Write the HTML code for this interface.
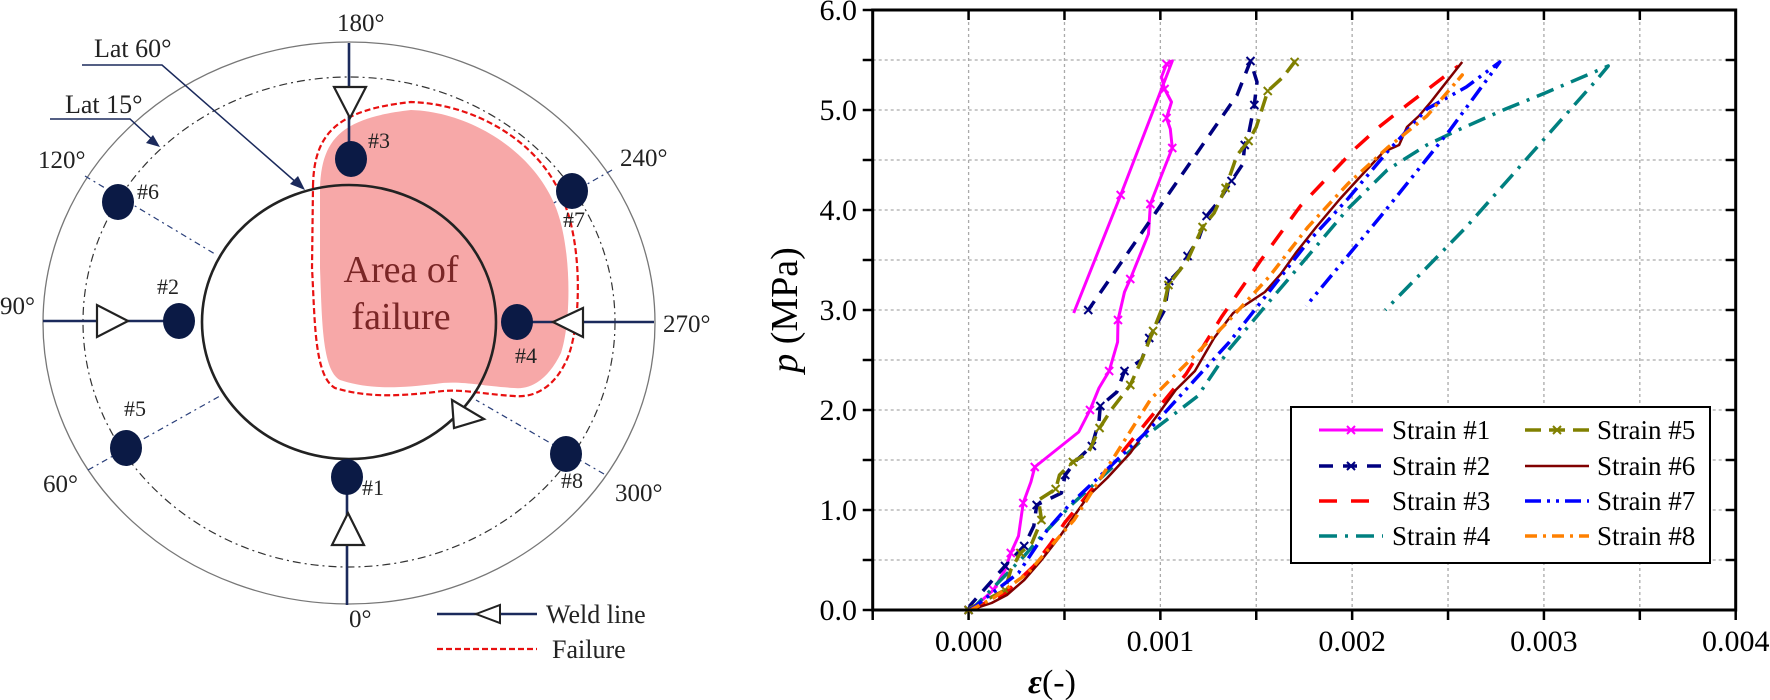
<!DOCTYPE html>
<html><head><meta charset="utf-8"><style>
html,body{margin:0;padding:0;background:#fff;}
svg{display:block;font-family:"Liberation Serif","DejaVu Serif",serif;}
text{font-family:"Liberation Serif","DejaVu Serif",serif;}
</style></head><body>
<svg id="root" width="1770" height="700" viewBox="0 0 1770 700" xmlns="http://www.w3.org/2000/svg" font-family="Liberation Serif, DejaVu Serif, serif">
<g id="diagram" font-family="Liberation Serif, serif">
  <ellipse cx="349" cy="323" rx="306" ry="281" fill="none" stroke="#777" stroke-width="1.3"/>
  <ellipse cx="349" cy="322" rx="266" ry="245" fill="none" stroke="#333" stroke-width="1.2" stroke-dasharray="8,4,2,4"/>
  <g stroke="#2a3f7a" stroke-width="1.2" stroke-dasharray="6,4,2,4">
    <line x1="85" y1="176" x2="215" y2="254"/>
    <line x1="88" y1="470" x2="220" y2="396"/>
    <line x1="612" y1="170" x2="478" y2="246"/>
    <line x1="604" y1="474" x2="476" y2="400"/>
  </g>
  <path d="M320,187 C322,140 340,118 411,110 C470,112 530,150 553,201 C572,240 572,320 561,353 C548,380 530,390 514,388 C480,386 460,380 435,384 C400,388 370,390 340,380 C322,370 322,320 320,268 Z" fill="#f7a8a8"/>
  <path d="M313,186 C314,134 336,110 411,102 C475,104 540,142 562,198 C582,240 582,320 568,357 C555,388 534,398 514,396 C480,394 460,388 435,392 C400,396 368,398 335,388 C314,376 315,320 312,268 Z" fill="none" stroke="#e81010" stroke-width="2.2" stroke-dasharray="6,3"/>
  <ellipse cx="349" cy="322" rx="147" ry="137" fill="none" stroke="#222" stroke-width="2.6"/>
  <polygon points="452,400 484,419 454,428" fill="#fff" stroke="#222" stroke-width="2.2"/>
  <g stroke="#1b2a5c" stroke-width="2.6">
    <line x1="349" y1="43" x2="349" y2="159"/>
    <line x1="347" y1="477" x2="347" y2="605"/>
    <line x1="43" y1="321" x2="179" y2="321"/>
    <line x1="517" y1="322" x2="654" y2="322"/>
  </g>
  <g fill="#fff" stroke="#222" stroke-width="2.2">
    <polygon points="334,87 366,87 350,118"/>
    <polygon points="332,545 364,545 348,513"/>
    <polygon points="97,305 97,337 128,321"/>
    <polygon points="583,308 583,337 553,322"/>
  </g>
  <g fill="#0b1a45">
    <ellipse cx="351" cy="159" rx="16" ry="18"/>
    <ellipse cx="118" cy="202" rx="16" ry="18"/>
    <ellipse cx="179" cy="321" rx="16" ry="18"/>
    <ellipse cx="126" cy="448" rx="16" ry="18"/>
    <ellipse cx="347" cy="477" rx="16" ry="18"/>
    <ellipse cx="566" cy="454" rx="16" ry="18"/>
    <ellipse cx="517" cy="322" rx="16" ry="18"/>
    <ellipse cx="572" cy="191" rx="16" ry="18"/>
  </g>
  <g font-size="22" fill="#222" font-family="Liberation Serif, serif">
    <text x="368" y="148">#3</text><text x="137" y="199">#6</text>
    <text x="157" y="294">#2</text><text x="124" y="416">#5</text>
    <text x="362" y="495">#1</text><text x="515" y="363">#4</text>
    <text x="563" y="227">#7</text><text x="561" y="488">#8</text>
  </g>
  <g font-size="25" fill="#222" font-family="Liberation Serif, serif">
    <text x="337" y="31">180°</text><text x="38" y="168">120°</text>
    <text x="0" y="314">90°</text><text x="43" y="492">60°</text>
    <text x="349" y="627">0°</text><text x="620" y="166">240°</text>
    <text x="663" y="332">270°</text><text x="615" y="501">300°</text>
  </g>
  <text x="401" y="282" font-size="38" fill="#7a2626" text-anchor="middle" font-family="Liberation Serif, serif">Area of</text>
  <text x="401" y="329" font-size="38" fill="#7a2626" text-anchor="middle" font-family="Liberation Serif, serif">failure</text>
  <text x="94" y="57" font-size="26" fill="#222" font-family="Liberation Serif, serif">Lat 60°</text>
  <text x="65" y="113" font-size="26" fill="#222" font-family="Liberation Serif, serif">Lat 15°</text>
  <g stroke="#1b2a5c" stroke-width="1.5" fill="none">
    <polyline points="82,65 162,65 298,184"/>
    <polyline points="50,119 130,119 155,142"/>
  </g>
  <polygon points="305,190 290,184 298,176" fill="#1b2a5c"/>
  <polygon points="160,147 146,143 153,135" fill="#1b2a5c"/>
  <line x1="437" y1="614" x2="537" y2="614" stroke="#1b2a5c" stroke-width="2.6"/>
  <polygon points="476,614 500,605 500,623" fill="#fff" stroke="#222" stroke-width="2"/>
  <text x="546" y="623" font-size="26" fill="#222" font-family="Liberation Serif, serif">Weld line</text>
  <line x1="437" y1="649" x2="537" y2="649" stroke="#e81010" stroke-width="2.2" stroke-dasharray="6,3"/>
  <text x="552" y="658" font-size="26" fill="#222" font-family="Liberation Serif, serif">Failure</text>
</g>
<g id="chart" font-family="Liberation Serif, serif"></g>
</svg>
<script>
const xTicks=[0,0.001,0.002,0.003,0.004];
const xTickLabels=["0.000","0.001","0.002","0.003","0.004"];
const yTicks=[0,1,2,3,4,5,6];
const yTickLabels=["0.0","1.0","2.0","3.0","4.0","5.0","6.0"];
const seriesNames=["Strain #1","Strain #2","Strain #3","Strain #4","Strain #5","Strain #6","Strain #7","Strain #8"];
const s1x=[0,0.00003,0.00013,0.00019,0.00022,0.00026,0.000285,0.000325,0.000345,0.000574,0.000633,0.00068,0.000733,0.000777,0.000779,0.000813,0.000843,0.000938,0.000948,0.001002,0.001062,0.001052,0.001032,0.001058,0.001022,0.001006,0.001032,0.001062,0.000793,0.000548];
const s1y=[0,0.03,0.2,0.4,0.57,0.74,1.07,1.28,1.43,1.78,2.0,2.22,2.39,2.68,2.9,3.18,3.31,3.76,4.06,4.33,4.62,4.81,4.92,5.08,5.21,5.33,5.46,5.49,4.15,2.97];
const s2x=[0,0.00001,0.00019,0.00024,0.00029,0.00034,0.000355,0.000484,0.000504,0.000564,0.000643,0.00068,0.000687,0.000773,0.000813,0.000902,0.000942,0.001022,0.001046,0.001102,0.001142,0.001201,0.001241,0.001301,0.001371,0.00143,0.00144,0.00146,0.00149,0.001504,0.00147,0.0014,0.000624];
const s2y=[0,0.05,0.44,0.54,0.64,0.84,1.05,1.17,1.35,1.5,1.64,1.89,2.04,2.18,2.39,2.5,2.72,3.0,3.29,3.4,3.54,3.72,3.94,4.08,4.29,4.46,4.65,4.76,5.05,5.28,5.49,5.15,3.0];
const s3x=[0,0.00003,0.00018,0.00034,0.00043,0.0005,0.00095,0.001134,0.001319,0.001525,0.00173,0.001874,0.002019,0.00214,0.002286,0.00243,0.002553];
const s3y=[0,0.02,0.15,0.44,0.67,0.87,1.93,2.36,2.93,3.5,4.04,4.33,4.62,4.83,5.05,5.26,5.44];
const s4x=[0,0.00003,0.00029,0.00038,0.00053,0.00095,0.001195,0.00136,0.001566,0.00177,0.001977,0.002183,0.00239,0.002553,0.0028,0.003006,0.003335,0.003274,0.003006,0.002595,0.002173];
const s4y=[0,0.03,0.54,0.74,1.04,1.78,2.14,2.61,3.08,3.54,4.01,4.4,4.65,4.8,5.01,5.17,5.44,5.3,4.72,3.83,3.0];
const s5x=[0,0.00001,0.00019,0.00022,0.00027,0.00033,0.00038,0.000365,0.000454,0.000474,0.000544,0.000624,0.000683,0.000743,0.000843,0.000902,0.000962,0.001022,0.001042,0.001142,0.00122,0.00128,0.00134,0.0014,0.00146,0.0015,0.00156,0.00164,0.0017];
const s5y=[0,0.02,0.2,0.4,0.57,0.67,0.9,1.1,1.21,1.35,1.48,1.57,1.82,2.0,2.25,2.5,2.79,3.08,3.25,3.5,3.83,3.97,4.22,4.55,4.69,4.83,5.19,5.33,5.48];
const s6x=[0,0.00001,0.00012,0.0002,0.00029,0.00038,0.00047,0.00055,0.000624,0.000723,0.000843,0.000962,0.00108,0.00118,0.00128,0.00138,0.001545,0.001628,0.00171,0.001813,0.001936,0.00206,0.002163,0.002245,0.002286,0.002348,0.00241,0.002471,0.002574];
const s6y=[0,0.0,0.07,0.15,0.3,0.5,0.72,0.94,1.14,1.32,1.57,1.89,2.2,2.39,2.72,2.97,3.18,3.36,3.58,3.83,4.11,4.37,4.58,4.65,4.83,4.94,5.08,5.23,5.48];
const s7x=[0,0.00003,0.00026,0.00034,0.00041,0.00052,0.00095,0.001155,0.00136,0.001566,0.00177,0.001977,0.002183,0.00239,0.002595,0.00277,0.00251,0.002163,0.00176];
const s7y=[0,0.03,0.37,0.6,0.8,1.04,1.82,2.25,2.68,3.18,3.68,4.11,4.58,5.01,5.23,5.48,4.8,3.97,3.04];
const s8x=[0,0.00001,0.00013,0.00031,0.00043,0.00055,0.00095,0.001155,0.00136,0.001566,0.00177,0.001977,0.002183,0.00239,0.002574,0.00253];
const s8y=[0,0.0,0.12,0.37,0.64,0.9,2.11,2.5,2.9,3.33,3.83,4.26,4.62,4.94,5.35,5.25];

const NS="http://www.w3.org/2000/svg";
const FONT="Liberation Serif, DejaVu Serif, serif";
const L=872.7,R=1735.7,T=10,B=610,XMIN=-0.0005,XMAX=0.004,YMIN=0,YMAX=6;
const X=v=>L+(v-XMIN)/(XMAX-XMIN)*(R-L);
const Y=v=>B-(v-YMIN)/(YMAX-YMIN)*(B-T);
const chart=document.getElementById('chart');
function mk(tag,attrs,parent){const e=document.createElementNS(NS,tag);for(const k in attrs)e.setAttribute(k,attrs[k]);if(tag==='text')e.setAttribute('font-family',FONT);(parent||chart).appendChild(e);return e;}

const grid=mk('g',{stroke:'#aaa','stroke-width':1.3,'stroke-dasharray':'3,3'});


for(let i=0;i<=9;i++){const v=XMIN+i*0.0005;const x=X(v);
  const gl=mk('line',{x1:x,y1:T,x2:x,y2:B},grid);
  
  }
for(let i=1;i<12;i++){const y=Y(i*0.5);
  const gl=mk('line',{x1:L,y1:y,x2:R,y2:y},grid);
  
  }

const ticks=mk('g',{stroke:'#000','stroke-width':2.5});


for(let i=0;i<=9;i++){const x=X(XMIN+i*0.0005);
  mk('line',{x1:x,y1:B,x2:x,y2:B+10},ticks);
  mk('line',{x1:x,y1:T,x2:x,y2:T+10},ticks);}
for(let i=0;i<=12;i++){const y=Y(i*0.5);
  mk('line',{x1:L-10,y1:y,x2:L,y2:y},ticks);
  mk('line',{x1:R-10,y1:y,x2:R,y2:y},ticks);}

const colors=['#ff00ff','#000080','#ff0000','#008080','#808000','#800000','#0000ff','#ff8000'];
const dashes=['none','14,10','18,14','18,8,3,8','16,8','none','16,6,3,6,3,6','12,6,3,6'];
const widths=[3,3.5,3.5,3.5,3.5,2.5,3.5,3.5];
const markers=[true,true,false,false,true,false,false,false];
const xs=[s1x,s2x,s3x,s4x,s5x,s6x,s7x,s8x], ys=[s1y,s2y,s3y,s4y,s5y,s6y,s7y,s8y];
for(let s=0;s<8;s++){
  const pts=xs[s].map((v,i)=>X(v).toFixed(1)+','+Y(ys[s][i]).toFixed(1)).join(' ');
  const pl=mk('polyline',{points:pts,fill:'none',stroke:colors[s],'stroke-width':widths[s],'stroke-dasharray':dashes[s],'stroke-linejoin':'round'});
  
  
  if(markers[s]){
    const mg=mk('g',{stroke:colors[s],'stroke-width':2});
    
    
    xs[s].forEach((v,i)=>{if(i%2)return;const cx=X(v),cy=Y(ys[s][i]);
      mk('path',{d:`M${cx-4},${cy-4}L${cx+4},${cy+4}M${cx-4},${cy+4}L${cx+4},${cy-4}`},mg);});
  }
}
const frame=mk('rect',{x:L,y:T,width:R-L,height:B-T,fill:'none',stroke:'#000','stroke-width':3});



xTicks.forEach((v,i)=>{const t=mk('text',{x:X(v),y:651,'font-size':30,'text-anchor':'middle'});t.textContent=xTickLabels[i];
  
  });
yTicks.forEach((v,i)=>{const t=mk('text',{x:857,y:Y(v)+10,'font-size':30,'text-anchor':'end'});t.textContent=yTickLabels[i];
  
  });

const yt=mk('text',{x:0,y:0,'font-size':38,'text-anchor':'middle',transform:'translate(797,310) rotate(-90)'});
yt.innerHTML='<tspan font-style="italic">p</tspan> (MPa)';


const xt=mk('text',{x:1052,y:693,'font-size':34,'text-anchor':'middle'});
xt.innerHTML='<tspan font-style="italic" font-weight="bold">ε</tspan>(-)';



const lg=mk('g',{});


const lr=mk('rect',{x:1291,y:407,width:419,height:156,fill:'#fff',stroke:'#000','stroke-width':2},lg);


const rowsY=[430,466,501,536];
for(let s=0;s<8;s++){
  const col=s<4?0:1,row=s%4;const lx=col?1525:1319,tx=col?1597:1392,y=rowsY[row];
  const eg=mk('g',{},lg);
  
  
  mk('line',{x1:lx,y1:y,x2:lx+64,y2:y,stroke:colors[s],'stroke-width':widths[s],'stroke-dasharray':dashes[s]},eg);
  if(markers[s]){const cx=lx+32;mk('path',{d:`M${cx-4},${y-4}L${cx+4},${y+4}M${cx-4},${y+4}L${cx+4},${y-4}`,stroke:colors[s],'stroke-width':2},eg);}
  const t=mk('text',{x:tx,y:y+9,'font-size':27},eg);t.textContent=seriesNames[s];
}
</script>
</body></html>
